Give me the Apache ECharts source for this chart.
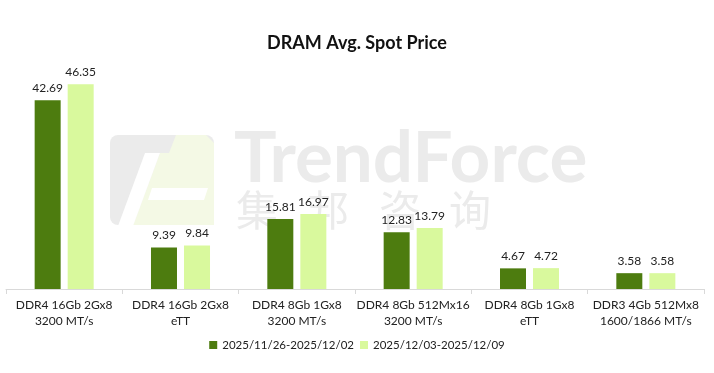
<!DOCTYPE html>
<html><head><meta charset="utf-8">
<script src="https://cdn.jsdelivr.net/npm/echarts@6/dist/echarts.min.js"></script>
<style>html,body{margin:0;padding:0;background:#fff}#c{width:714px;height:373px}</style>
</head><body><div id="c"></div>
<script>
const categories = ['DDR4 16Gb 2Gx8\n3200 MT/s','DDR4 16Gb 2Gx8\neTT','DDR4 8Gb 1Gx8\n3200 MT/s','DDR4 8Gb 512Mx16\n3200 MT/s','DDR4 8Gb 1Gx8\neTT','DDR3 4Gb 512Mx8\n1600/1866 MT/s'];
const seriesNames = ['2025/11/26-2025/12/02','2025/12/03-2025/12/09'];
const week1 = [42.69, 9.39, 15.81, 12.83, 4.67, 3.58];
const week2 = [46.35, 9.84, 16.97, 13.79, 4.72, 3.58];

const font = 'Lato, "Noto Sans", sans-serif';
const wmGray = '#ebebeb';
const wmGreen = '#f4f9e5';
const chart = echarts.init(document.getElementById('c'));
chart.setOption({
  animation:false,
  backgroundColor:'#fff',
  title:{text:'DRAM Avg. Spot Price', left:'center', top:29,
    textStyle:{fontFamily:font, fontSize:18, fontWeight:'bold', color:'#111'}},
  graphic:[
    {type:'rect', z:-10, shape:{x:110,y:135,width:104,height:90,r:8}, style:{fill:wmGray}},
    {type:'polygon', z:-9, shape:{points:[[176,135],[206,135],[214,143],[214,225],[133,225],[160,153],[169,153]]}, style:{fill:wmGreen}},
    {type:'polygon', z:-8, shape:{points:[[145,153],[160,153],[133,226],[118,226]]}, style:{fill:'#ffffff'}},
    {type:'polygon', z:-8, shape:{points:[[152,188],[208,188],[204,200],[148,200]]}, style:{fill:'#ffffff'}},
    {type:'text', z:-10, left:234, top:124, style:{text:'TrendForce', fontFamily:'Lato, sans-serif', fontSize:71, fontWeight:'bold', fill:wmGray}},
    {type:'text', z:-10, left:236, top:189, style:{text:'集', fontFamily:'"Noto Sans CJK SC", sans-serif', fontSize:42, fill:wmGray}},
    {type:'text', z:-10, left:307, top:189, style:{text:'邦', fontFamily:'"Noto Sans CJK SC", sans-serif', fontSize:42, fill:wmGray}},
    {type:'text', z:-10, left:379, top:189, style:{text:'咨', fontFamily:'"Noto Sans CJK SC", sans-serif', fontSize:42, fill:wmGray}},
    {type:'text', z:-10, left:449, top:189, style:{text:'询', fontFamily:'"Noto Sans CJK SC", sans-serif', fontSize:42, fill:wmGray}}
  ],
  legend:{data:seriesNames, bottom:17, left:'center', itemWidth:8, itemHeight:8, itemGap:6,
    icon:'rect', textStyle:{fontFamily:font, fontSize:11.5, color:'#222'}},
  grid:{left:6, right:10, top:68, bottom:84, containLabel:false},
  xAxis:{type:'category', data:categories,
    axisLine:{lineStyle:{color:'#d9d9d9'}},
    axisTick:{show:true, length:5, lineStyle:{color:'#d9d9d9'}},
    axisLabel:{fontFamily:font, fontSize:12, color:'#222', lineHeight:16, margin:8, interval:0}},
  yAxis:{type:'value', min:0, max:50, show:false, splitLine:{show:false}},
  series:[
    {name:seriesNames[0], type:'bar', data:week1, barWidth:26, barGap:'27%',
      itemStyle:{color:'#4d7c0f'},
      label:{show:true, position:'top', distance:6, fontFamily:font, fontSize:12, color:'#222'}},
    {name:seriesNames[1], type:'bar', data:week2, barWidth:26, barGap:'27%',
      itemStyle:{color:'#d9f99d'},
      label:{show:true, position:'top', distance:6, fontFamily:font, fontSize:12, color:'#222'}}
  ]
});
</script></body></html>
